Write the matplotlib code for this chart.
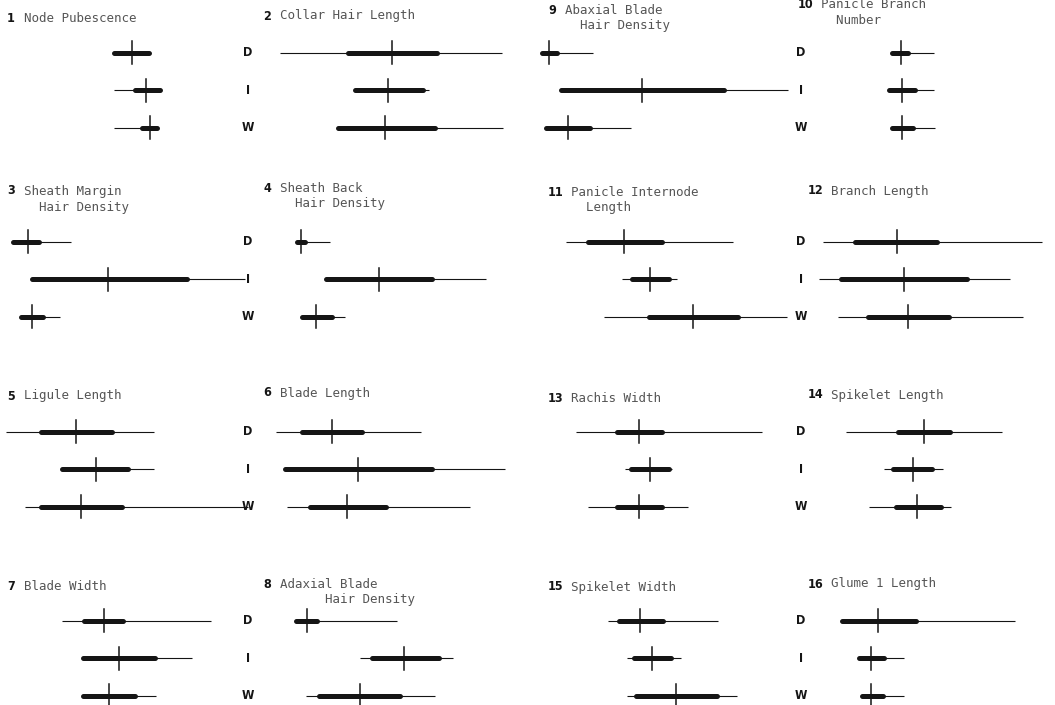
import matplotlib
matplotlib.use("Agg")
import matplotlib.pyplot as plt
from matplotlib.transforms import blended_transform_factory

groups = ["D", "I", "W"]

# Per group: (minimum, mean - sd, mean, mean + sd, maximum), common 0-100 scale per trait
node_pubescence = [(45.6, 45.6, 52.8, 59.6, 59.6),
                   (45.6, 54.0, 58.4, 64.0, 64.0),
                   (45.6, 56.8, 60.0, 62.8, 62.8)]
collar_hair_length = [(8.8, 36.0, 53.6, 71.6, 97.6),
                      (38.8, 38.8, 52.0, 66.0, 68.4),
                      (32.0, 32.0, 50.8, 70.8, 98.0)]
sheath_margin_hair = [(5.2, 5.2, 11.2, 15.6, 28.4),
                      (12.8, 12.8, 43.2, 74.8, 98.0),
                      (8.4, 8.4, 12.8, 17.2, 24.0)]
sheath_back_hair = [(15.6, 15.6, 17.2, 18.8, 28.8),
                    (27.2, 27.2, 48.4, 69.6, 91.2),
                    (17.6, 17.6, 23.2, 29.6, 34.8)]
ligule_length = [(2.4, 16.4, 30.4, 44.8, 61.6),
                 (24.8, 24.8, 38.4, 51.2, 61.6),
                 (10.0, 16.4, 32.4, 48.8, 99.2)]
blade_length = [(7.2, 17.6, 29.6, 41.6, 65.2),
                (10.8, 10.8, 40.0, 69.6, 98.8),
                (11.6, 20.8, 35.6, 51.2, 84.8)]
blade_width = [(24.8, 33.6, 41.6, 49.2, 84.4),
               (33.2, 33.2, 47.6, 62.0, 76.8),
               (33.2, 33.2, 43.6, 54.0, 62.4)]
adaxial_blade_hair = [(15.2, 15.2, 19.6, 23.6, 55.6),
                      (40.8, 45.6, 58.4, 72.4, 78.0),
                      (19.2, 24.4, 40.8, 56.8, 70.8)]
abaxial_blade_hair = [(0.8, 0.8, 3.6, 6.8, 21.2),
                      (8.4, 8.4, 40.8, 73.6, 99.2),
                      (2.4, 2.4, 11.2, 20.0, 36.4)]
panicle_branch_number = [(36.8, 36.8, 40.4, 43.2, 53.6),
                         (35.6, 35.6, 40.8, 46.0, 53.6),
                         (36.8, 36.8, 40.8, 45.2, 54.0)]
panicle_internode_length = [(10.4, 19.2, 33.6, 48.8, 77.2),
                            (32.8, 36.8, 44.0, 51.6, 54.8),
                            (25.6, 43.6, 61.2, 79.2, 98.8)]
branch_length = [(9.2, 22.0, 38.8, 54.8, 96.8),
                 (7.6, 16.4, 41.6, 66.8, 84.0),
                 (15.2, 27.2, 43.2, 59.6, 89.2)]
rachis_width = [(14.4, 30.8, 39.6, 48.8, 88.8),
                (34.0, 36.4, 44.0, 51.6, 52.8),
                (19.2, 30.8, 39.6, 48.8, 59.2)]
spikelet_length = [(18.4, 39.2, 49.6, 60.0, 80.8),
                   (33.6, 37.2, 45.2, 52.8, 57.2),
                   (27.6, 38.4, 46.8, 56.4, 60.4)]
spikelet_width = [(27.2, 31.6, 40.0, 49.2, 71.2),
                  (34.8, 37.6, 44.8, 52.4, 56.4),
                  (34.8, 38.4, 54.4, 70.8, 78.8)]
glume1_length = [(16.8, 16.8, 31.2, 46.4, 86.0),
                 (23.6, 23.6, 28.4, 33.6, 41.6),
                 (24.8, 24.8, 28.4, 33.2, 41.6)]

# (number, title lines, data, column, row)
traits = [
    ("1", ["Node Pubescence"], node_pubescence, 0, 0),
    ("2", ["Collar Hair Length"], collar_hair_length, 1, 0),
    ("3", ["Sheath Margin", "  Hair Density"], sheath_margin_hair, 0, 1),
    ("4", ["Sheath Back", "  Hair Density"], sheath_back_hair, 1, 1),
    ("5", ["Ligule Length"], ligule_length, 0, 2),
    ("6", ["Blade Length"], blade_length, 1, 2),
    ("7", ["Blade Width"], blade_width, 0, 3),
    ("8", ["Adaxial Blade", "      Hair Density"], adaxial_blade_hair, 1, 3),
    ("9", ["Abaxial Blade", "  Hair Density"], abaxial_blade_hair, 2, 0),
    ("10", ["Panicle Branch", "  Number"], panicle_branch_number, 3, 0),
    ("11", ["Panicle Internode", "  Length"], panicle_internode_length, 2, 1),
    ("12", ["Branch Length"], branch_length, 3, 1),
    ("13", ["Rachis Width"], rachis_width, 2, 2),
    ("14", ["Spikelet Length"], spikelet_length, 3, 2),
    ("15", ["Spikelet Width"], spikelet_width, 2, 3),
    ("16", ["Glume 1 Length"], glume1_length, 3, 3),
]

W_PX, H_PX = 1055, 705
fig = plt.figure(figsize=(W_PX / 100, H_PX / 100), dpi=100)
fig.patch.set_facecolor("white")

col_left = [0, 258, 540, 800]
row_top = [34, 223, 413, 602]
title_y = [18, 191, 396, 587]
title_dy = {(2, 0): -8, (3, 0): -13, (1, 0): -2, (1, 1): -3, (2, 1): 1, (3, 1): 0,
            (1, 2): -3, (2, 2): 3, (3, 2): -1, (1, 3): -3, (3, 3): -3}
num_dx = {(0, 0): 7, (1, 0): 5, (2, 0): 8, (3, 0): -2}
panel_w, unit_px = 250, 37.5
label_x = {1: 248, 3: 801}

ink = "#151515"
mono = ["DejaVu Sans Mono"]

for num, lines, data, c, r in traits:
    L, T = col_left[c], row_top[r]
    ax = fig.add_axes([L / W_PX, 1 - (T + 3 * unit_px) / H_PX,
                       panel_w / W_PX, 3 * unit_px / H_PX])
    ax.set_xlim(0, 100)
    ax.set_ylim(2.5, -0.5)
    ax.axis("off")
    for y, (lo, sd_lo, mean, sd_hi, hi) in enumerate(data):
        ax.plot([lo, hi], [y, y], color=ink, lw=0.8, solid_capstyle="butt", clip_on=False)
        ax.plot([sd_lo, sd_hi], [y, y], color=ink, lw=3.6, solid_capstyle="round", clip_on=False)
        ax.plot([mean, mean], [y - 0.31, y + 0.31], color=ink, lw=1.1, clip_on=False)
    if c in label_x:
        tr = blended_transform_factory(fig.transFigure, ax.transData)
        for y, g in enumerate(groups):
            ax.text(label_x[c] / W_PX, y, g, transform=tr, ha="center", va="center",
                    fontsize=9, fontweight="bold", fontstretch="condensed",
                    family=["DejaVu Sans"], color=ink)
    ty = title_y[r] + title_dy.get((c, r), 0)
    nx = L + num_dx.get((c, r), [7, 5, 8, 6][c] + (2 if c == 3 else 0))
    fig.text(nx / W_PX, 1 - ty / H_PX, num, ha="left", va="center",
             fontsize=9, fontweight="bold", fontstretch="condensed",
             family=["DejaVu Sans"], color=ink)
    tx = nx + (8 if len(num) == 1 else 14) + 9
    for i, line in enumerate(lines):
        fig.text(tx / W_PX, 1 - (ty + i * 16) / H_PX, line, ha="left", va="center",
                 fontsize=9, family=mono, color="#555555")

fig.savefig("out.png", dpi=100, facecolor="white")
